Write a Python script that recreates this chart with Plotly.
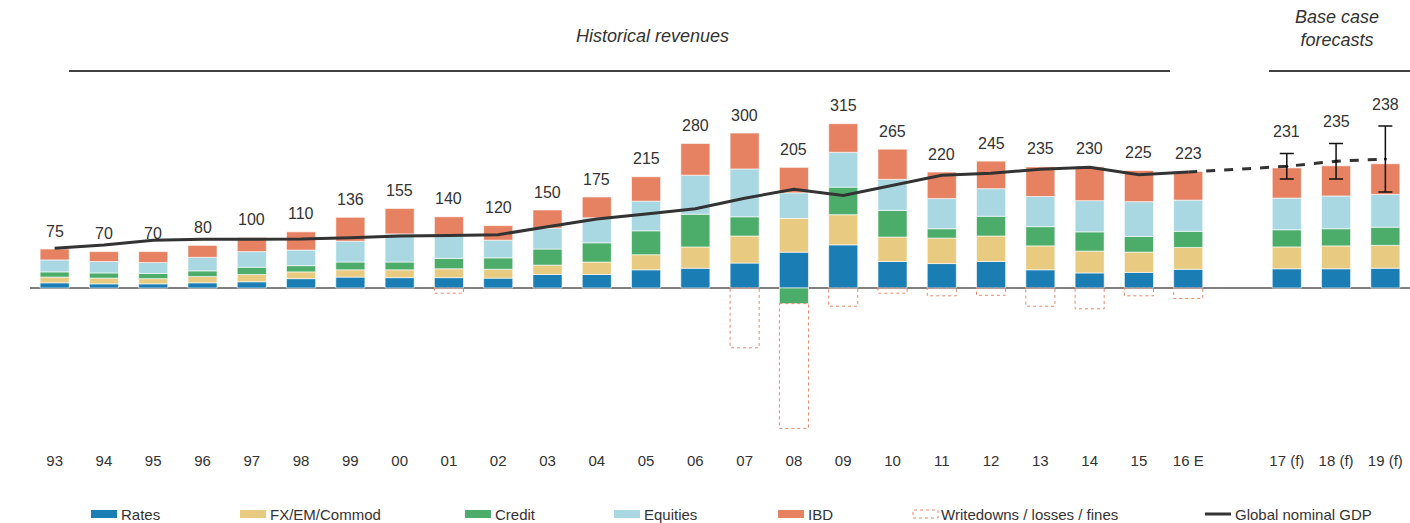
import plotly.graph_objects as go

# categories (blank slot separates history from forecasts)
years = ["93", "94", "95", "96", "97", "98", "99", "00", "01", "02", "03", "04",
         "05", "06", "07", "08", "09", "10", "11", "12", "13", "14", "15", "16 E",
         " ", "17 (f)", "18 (f)", "19 (f)"]

# revenue pools, $bn
rates = [10, 8, 8, 10, 12, 18, 21, 20, 20, 19, 26, 26, 35, 38, 48, 69, 83, 51,
         47, 51, 35, 29, 30, 36, None, 37, 37, 38]
fx_em = [11, 11, 10, 12, 14, 13, 14, 15, 17, 17, 18, 24, 29, 41, 52, 65, 58, 47,
         49, 49, 46, 42, 39, 42, None, 42, 44, 44]
credit = [10, 10, 10, 11, 14, 12, 15, 15, 20, 22, 31, 37, 46, 63, 37, -30, 53, 51,
          18, 38, 37, 37, 30, 31, None, 33, 33, 35]
equities = [23, 22, 21, 26, 30, 30, 40, 54, 45, 34, 40, 48, 57, 75, 92, 49, 67, 60,
            58, 53, 58, 60, 67, 60, None, 61, 63, 63]
ibd = [21, 19, 21, 23, 27, 35, 46, 49, 35, 28, 35, 40, 47, 61, 69, 49, 55, 58,
       51, 53, 57, 65, 60, 55, None, 58, 58, 59]
writedowns = [0, 0, 0, 0, 0, 0, 0, 0, -10, 0, 0, 0, 0, 0, -115, -240, -35, -10,
              -15, -14, -35, -40, -15, -20, None, 0, 0, 0]
totals = ["75", "70", "70", "80", "100", "110", "136", "155", "140", "120", "150",
          "175", "215", "280", "300", "205", "315", "265", "220", "245", "235",
          "230", "225", "223", "", "231", "235", "238"]

# global nominal GDP, $tn
gdp_years = years[:24]
gdp = [25.6, 27.7, 30.8, 31.4, 31.4, 31.6, 32.5, 33.5, 33.9, 34.4, 39.5, 44.5,
       47.7, 51.2, 57.9, 63.7, 59.7, 66.3, 72.7, 74.0, 76.6, 77.9, 73.1, 74.8]
fc_years = ["17 (f)", "18 (f)", "19 (f)"]
gdp_fc = [78.5, 81.8, 83.2]
gdp_fc_err = [8.2, 11.5, 21.3]

C_RATES = "#1a7db4"
C_FX = "#e8cb80"
C_CREDIT = "#4cad6b"
C_EQ = "#a9d7e2"
C_IBD = "#e68262"
C_WD = "#e9866a"
C_GDP = "#333333"
FONT = "Liberation Sans, Arial, sans-serif"

W, H = 1410, 523
PL, PT, PW, PH = 30, 90, 1380, 350
Y_RANGE = [-292.3, 380.8]
GDP_SCALE = 2.981  # revenue units per $tn of GDP on screen
LEG_Y = 514


def px_x(p):
    return (p - PL) / PW


def px_y(p):
    return (PT + PH - p) / PH


def paper_text(x, y, text, size=15, xanchor="center"):
    fig.add_annotation(xref="paper", yref="paper", x=px_x(x), y=px_y(y), text=text,
                       xanchor=xanchor, yanchor="middle", showarrow=False,
                       font=dict(size=size, color="#333333"))


fig = go.Figure()
bar_line = dict(color="rgba(255,255,255,0.6)", width=1)
for name, vals, col in [("Rates", rates, C_RATES), ("FX/EM/Commod", fx_em, C_FX),
                        ("Credit", credit, C_CREDIT), ("Equities", equities, C_EQ),
                        ("IBD", ibd, C_IBD)]:
    fig.add_trace(go.Bar(x=years, y=vals, name=name, marker_color=col,
                         marker_line=bar_line, showlegend=False))

# writedowns: dashed outline boxes stacked under any negative credit
half = 0.295
for i, w in enumerate(writedowns):
    if not w:
        continue
    base = credit[i] if credit[i] < 0 else 0
    fig.add_shape(type="rect", xref="x", yref="y", x0=i - half, x1=i + half,
                  y0=base, y1=base + w, line=dict(color=C_WD, width=1, dash="dot"),
                  fillcolor="rgba(0,0,0,0)")

fig.add_trace(go.Scatter(x=gdp_years, y=gdp, mode="lines", yaxis="y2",
                         line=dict(color=C_GDP, width=3), showlegend=False))
fig.add_trace(go.Scatter(x=[gdp_years[-1]] + fc_years, y=[gdp[-1]] + gdp_fc,
                         mode="lines", yaxis="y2",
                         line=dict(color=C_GDP, width=3, dash="dash"), showlegend=False))
fig.add_trace(go.Scatter(x=fc_years, y=gdp_fc, mode="markers", yaxis="y2",
                         marker=dict(color="#111111", size=3),
                         error_y=dict(type="data", array=gdp_fc_err, color="#111111",
                                      thickness=1.5, width=7),
                         showlegend=False))

# total labels (x given as category index: "00", "01"... would parse as numbers)
for i, t in enumerate(totals):
    if not t:
        continue
    if years[i] in fc_years:
        k = fc_years.index(years[i])
        fig.add_annotation(x=i, y=gdp_fc[k] + gdp_fc_err[k], yref="y2",
                           text=t, showarrow=False, yshift=22,
                           font=dict(size=16, color="#333333"))
    else:
        top = sum(v for v in (rates[i], fx_em[i], credit[i], equities[i], ibd[i]) if v > 0)
        fig.add_annotation(x=i, y=top, yref="y", text=t, showarrow=False,
                           yshift=18, font=dict(size=16, color="#333333"))

# section headers
paper_text(652, 36, "<i>Historical revenues</i>", size=18)
paper_text(1337, 29, "<i>Base case<br>forecasts</i>", size=18)
for a, b in [(69, 1170), (1269, 1412)]:
    fig.add_shape(type="line", xref="paper", yref="paper", x0=px_x(a), x1=px_x(b),
                  y0=px_y(71), y1=px_y(71), line=dict(color="#404040", width=2))

# legend drawn by hand to match the spacing
legend_items = [("Rates", C_RATES, 91), ("FX/EM/Commod", C_FX, 240),
                ("Credit", C_CREDIT, 465), ("Equities", C_EQ, 614),
                ("IBD", C_IBD, 778)]
for label, col, x in legend_items:
    fig.add_shape(type="rect", xref="paper", yref="paper", x0=px_x(x), x1=px_x(x + 26),
                  y0=px_y(LEG_Y + 4), y1=px_y(LEG_Y - 4), fillcolor=col, line_width=0)
    paper_text(x + 28, LEG_Y, label, xanchor="left")
fig.add_shape(type="rect", xref="paper", yref="paper", x0=px_x(913), x1=px_x(938),
              y0=px_y(LEG_Y + 4), y1=px_y(LEG_Y - 4),
              line=dict(color=C_WD, width=1, dash="dot"))
paper_text(939, LEG_Y, "Writedowns / losses / fines", xanchor="left")
fig.add_shape(type="line", xref="paper", yref="paper", x0=px_x(1205), x1=px_x(1231),
              y0=px_y(LEG_Y), y1=px_y(LEG_Y), line=dict(color=C_GDP, width=3))
paper_text(1233, LEG_Y, "Global nominal GDP", xanchor="left")

fig.update_layout(
    width=W, height=H, barmode="relative", bargap=0.41,
    plot_bgcolor="white", paper_bgcolor="white",
    margin=dict(l=PL, r=W - PL - PW, t=PT, b=H - PT - PH),
    font=dict(family=FONT, color="#333333"),
    xaxis=dict(type="category", categoryorder="array", categoryarray=years,
               range=[-0.5, len(years) - 0.5], showgrid=False, showline=False,
               ticks="", ticklabelstandoff=10, tickfont=dict(size=15, color="#333333")),
    yaxis=dict(range=Y_RANGE, showgrid=False, showticklabels=False, zeroline=True,
               zerolinecolor="#808080", zerolinewidth=1.5),
    yaxis2=dict(range=[Y_RANGE[0] / GDP_SCALE, Y_RANGE[1] / GDP_SCALE],
                overlaying="y", visible=False),
)

# the page's default body margin would shift the figure by 8px
fig.write_html("out.html", config={"displayModeBar": False},
               post_script="document.body.style.margin='0';")
